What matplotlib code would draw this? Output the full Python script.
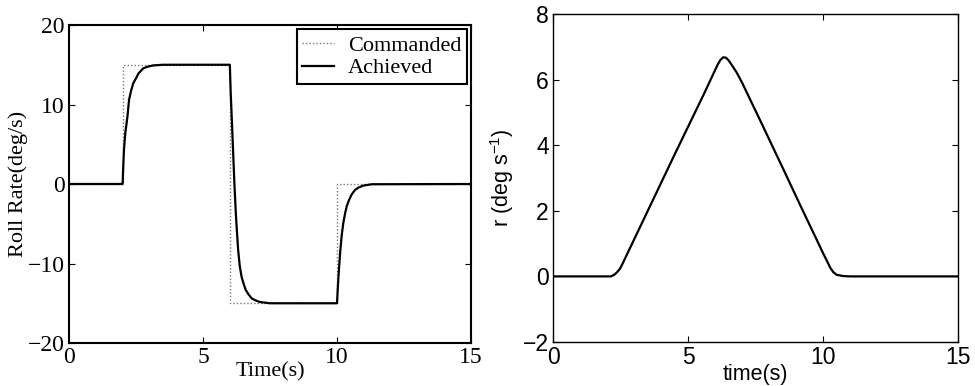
import matplotlib
matplotlib.use("Agg")
import matplotlib.pyplot as plt

# commanded roll rate (step profile)
cmd_t = [0, 2, 2, 6, 6, 10, 10, 15]
cmd_v = [0, 0, 15, 15, -15, -15, 0, 0]

# achieved roll rate
ach_t = [0, 2.0, 2.02, 2.05, 2.1, 2.18, 2.24, 2.32, 2.4, 2.5, 2.59, 2.77, 2.95, 3.15, 3.5,
         6.0, 6.03, 6.09, 6.17, 6.23, 6.31, 6.37, 6.44, 6.52, 6.59, 6.7, 6.82, 7.0, 7.13, 7.5,
         10.0, 10.03, 10.07, 10.12, 10.17, 10.23, 10.30, 10.37, 10.45, 10.55, 10.67, 10.8,
         10.98, 11.3, 15]
ach_v = [0, 0, 2.0, 4.3, 6.4, 8.5, 10.6, 11.8, 12.7, 13.3, 13.9, 14.55, 14.78, 14.92, 15.0,
         15.0, 11.7, 6.8, 0.1, -4.1, -8.3, -10.3, -11.7, -12.6, -13.3, -13.9, -14.4, -14.7, -14.85, -15.0,
         -15.0, -13.0, -10.8, -8.5, -6.6, -5.0, -3.7, -2.7, -2.0, -1.3, -0.75, -0.45,
         -0.2, -0.03, 0]

# yaw rate r
r_t = [0, 2.0, 2.14, 2.25, 2.35, 2.48, 2.6, 3.22, 3.84, 4.5, 5.2, 5.6, 5.94, 6.1, 6.2,
       6.3, 6.4, 6.5, 6.6, 6.8, 7.0, 7.67, 8.5, 9.15, 9.77, 10.0, 10.14, 10.27, 10.38,
       10.5, 10.75, 11.0, 15]
r_v = [0, 0, 0, 0.04, 0.11, 0.23, 0.43, 1.50, 2.57, 3.71, 4.90, 5.58, 6.18, 6.46, 6.6,
       6.68, 6.67, 6.59, 6.47, 6.22, 5.91, 4.76, 3.32, 2.18, 1.11, 0.71, 0.48, 0.26, 0.13,
       0.05, 0.01, 0, 0]

xticks = [0, 5, 10, 15]
left_yticks = [-20, -10, 0, 10, 20]
right_yticks = [-2, 0, 2, 4, 6, 8]

plt.rcParams['mathtext.fontset'] = 'custom'
plt.rcParams['mathtext.rm'] = 'Liberation Sans'
plt.rcParams['mathtext.it'] = 'Liberation Sans:italic'
plt.rcParams['mathtext.default'] = 'regular'

fig = plt.figure(figsize=(9.75, 3.86), dpi=100)

serif = 'Liberation Serif'
sans = 'Liberation Sans'

# left panel
ax1 = fig.add_axes([0.0708, 0.1114, 0.4123, 0.8238])
ax1.plot(cmd_t, cmd_v, linestyle=(0, (1, 1.5)), color='#777777', lw=1.0, label='Commanded')
ax1.plot(ach_t, ach_v, color='black', lw=1.6, label='Achieved')
ax1.set_xlim(0, 15)
ax1.set_ylim(-20, 20)
ax1.set_xticks(xticks)
ax1.set_yticks(left_yticks)
ax1.tick_params(direction='in', length=4, width=0.8, top=True, right=True,
                labelsize=17, pad=3)
for lab in ax1.get_xticklabels() + ax1.get_yticklabels():
    lab.set_fontfamily(serif)
for sp in ax1.spines.values():
    sp.set_linewidth(1.5)
ax1.set_xlabel('Time(s)', fontsize=16, fontfamily=serif, labelpad=-4)
ax1.set_ylabel('Roll Rate(deg/s)', fontsize=16, fontfamily=serif, labelpad=0)
leg = ax1.legend(loc='upper right', prop={'family': serif, 'size': 16},
                 fancybox=False, edgecolor='black', framealpha=1,
                 handlelength=1.45, handletextpad=0.6, labelspacing=0.1,
                 borderpad=0.25, borderaxespad=0.2)
leg.get_frame().set_linewidth(1.5)

# right panel
ax2 = fig.add_axes([0.5672, 0.1140, 0.4154, 0.8497])
ax2.plot(r_t, r_v, color='black', lw=1.6)
ax2.set_xlim(0, 15)
ax2.set_ylim(-2, 8)
ax2.set_xticks(xticks)
ax2.set_yticks(right_yticks)
ax2.tick_params(direction='in', length=4, width=0.8, top=True, right=True,
                labelsize=16.5, pad=3)
for lab in ax2.get_xticklabels() + ax2.get_yticklabels():
    lab.set_fontfamily(sans)
for sp in ax2.spines.values():
    sp.set_linewidth(1.0)
ax2.set_xlabel('time(s)', fontsize=15.5, fontfamily=sans, labelpad=-4)
ax2.set_ylabel(r'r (deg s$^{-1}$)', fontsize=15.5, fontfamily=sans, labelpad=5)

fig.savefig('out.png', dpi=100)
